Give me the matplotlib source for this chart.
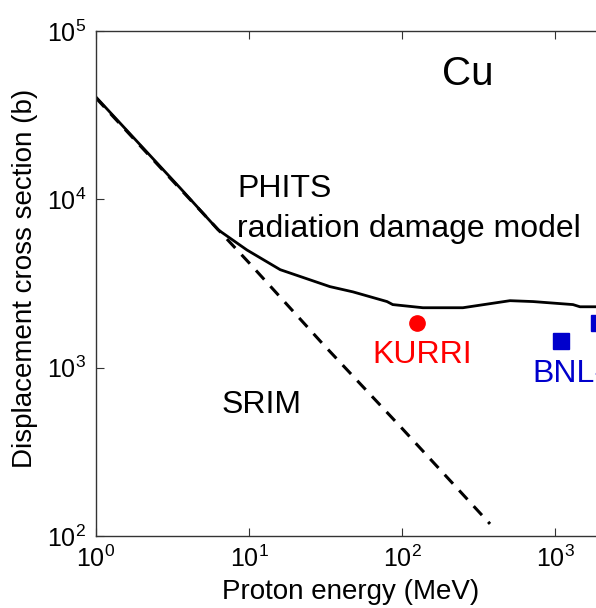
import matplotlib
matplotlib.use("Agg")
import matplotlib.pyplot as plt

plt.rcParams['font.family'] = ['Liberation Sans', 'DejaVu Sans']
plt.rcParams['mathtext.default'] = 'regular'

# PHITS radiation damage model
phits_e = [1, 3.54, 6.27, 9.7, 16, 33.8, 47.8, 79.8, 87, 137, 250, 508, 718, 1310, 1456, 1854, 3000]
phits_s = [40500, 11700, 6600, 5000, 3820, 3030, 2820, 2470, 2370, 2270, 2270, 2500, 2470, 2370, 2300, 2300, 2300]

# SRIM (dashed)
srim_e = [1, 3, 10, 30, 100, 376]
srim_s = [40000, 13600, 4200, 1400, 436, 118]

# measurements
kurri_e = [125]
kurri_s = [1850]
bnl_e = [1094, 1940]
bnl_s = [1445, 1850]

fig = plt.figure(figsize=(5.96, 6.08), dpi=100)
ax = fig.add_axes([96/596, 72/608, 535.5/596, 505/608])

ax.plot(phits_e, phits_s, color='black', lw=2.0)
ax.plot(srim_e, srim_s, color='black', lw=2.2, ls=(0, (4, 3)))
ax.plot(kurri_e, kurri_s, 'o', color='#ff0000', ms=11)
ax.plot(bnl_e, bnl_s, 's', color='#0000cc', ms=11)

ax.set_xscale('log')
ax.set_yscale('log')
ax.set_xlim(1, 10**3.5)
ax.set_ylim(100, 1e5)
ax.minorticks_off()
ax.tick_params(which='major', direction='in', length=6, width=0.8,
               top=True, right=True, labelsize=18, pad=7, color='#333333')
for s in ax.spines.values():
    s.set_color('#333333')
    s.set_linewidth(1.0)

ax.set_xlabel('Proton energy (MeV)', fontsize=20)
ax.set_ylabel('Displacement cross section (b)', fontsize=20)
ax.xaxis.set_label_coords(0.476, -0.086)
ax.yaxis.set_label_coords(-0.108, 0.51)

ax.text(182, 47700, 'Cu', fontsize=29, ha='left', va='baseline')
ax.text(8.35, 10300, 'PHITS', fontsize=23, ha='left', va='baseline')
ax.text(8.35, 5970, 'radiation damage model', fontsize=23, ha='left', va='baseline')
ax.text(6.66, 537, 'SRIM', fontsize=23, ha='left', va='baseline')
ax.text(63.7, 1065, 'KURRI', fontsize=23, ha='left', va='baseline', color='#ff0000')
ax.text(708, 820, 'BNL-', fontsize=23, ha='left', va='baseline', color='#0000cc')

fig.savefig('out.png', dpi=100)
